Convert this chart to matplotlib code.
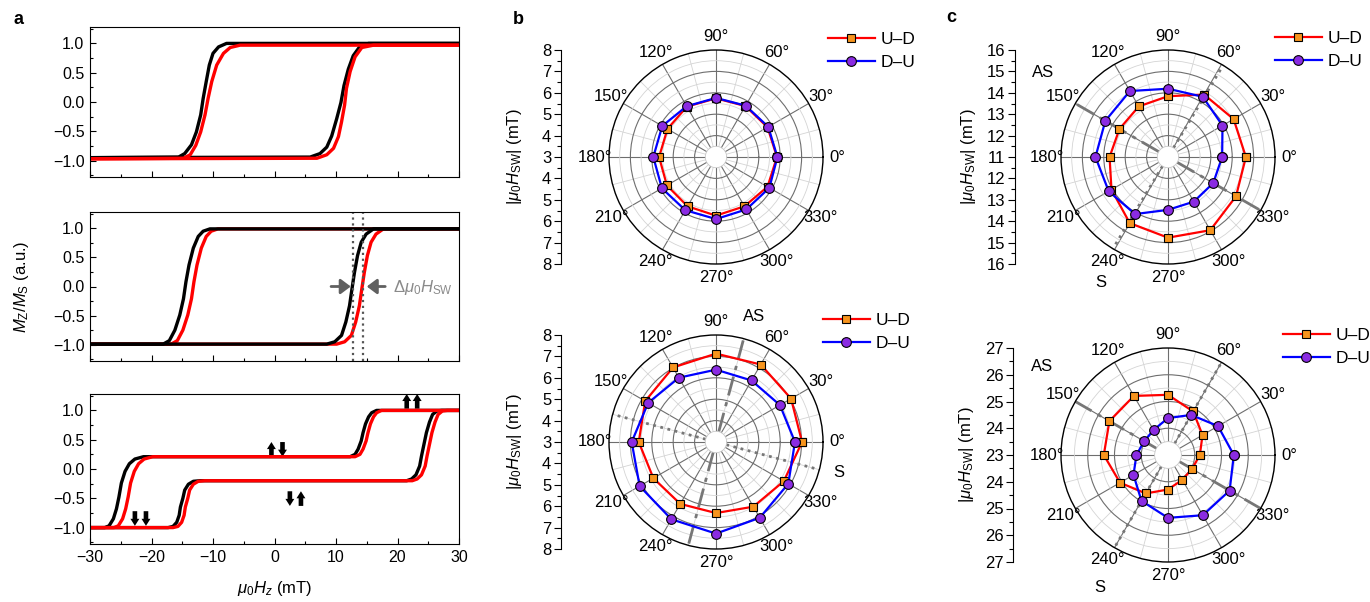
import numpy as np
import matplotlib
matplotlib.use('Agg')
import matplotlib.pyplot as plt
from matplotlib.ticker import MultipleLocator

plt.rcParams['font.family'] = ['Liberation Sans', 'DejaVu Sans']
plt.rcParams['mathtext.fontset'] = 'custom'
plt.rcParams['mathtext.rm'] = 'Liberation Sans'
plt.rcParams['mathtext.it'] = 'Liberation Sans:italic'
plt.rcParams['mathtext.bf'] = 'Liberation Sans:bold'

# ---------------- data: panel a (hysteresis branches) ----------------
TOP_BLK_DN_X = [30, -7.8, -9.1, -10.0, -10.6, -11.1, -11.6, -12.0, -12.7, -13.5, -14.6, -15.6, -30]
TOP_BLK_DN_Y = [1.0, 1.0, 0.94, 0.83, 0.63, 0.35, 0.06, -0.22, -0.51, -0.73, -0.88, -0.94, -0.95]
TOP_BLK_UP_X = [-30, 5.8, 7.4, 8.5, 9.3, 10.1, 10.8, 11.3, 12.0, 12.8, 13.9, 15.3, 30]
TOP_BLK_UP_Y = [-0.95, -0.94, -0.88, -0.77, -0.58, -0.29, -0.01, 0.28, 0.56, 0.79, 0.95, 1.0, 1.0]
TOP_RED_DN_X = [30, -5.6, -7.2, -8.3, -9.4, -10.2, -10.8, -11.3, -12.0, -12.8, -13.7, -14.8, -30]
TOP_RED_DN_Y = [0.97, 0.97, 0.93, 0.83, 0.63, 0.35, 0.06, -0.22, -0.51, -0.74, -0.90, -0.96, -0.97]
TOP_RED_UP_X = [-30, 6.9, 8.5, 9.6, 10.4, 10.9, 11.4, 11.7, 12.3, 13.1, 14.2, 16.1, 30]
TOP_RED_UP_Y = [-0.97, -0.96, -0.90, -0.79, -0.59, -0.34, -0.05, 0.23, 0.52, 0.77, 0.93, 0.97, 0.97]

MID_BLK_DN_X = [30, -10.5, -11.6, -12.4, -13.2, -13.9, -14.4, -14.8, -15.4, -16.2, -17.1, -18.1, -30]
MID_RED_DN_X = [30, -9.2, -10.3, -11.1, -11.9, -12.6, -13.1, -13.5, -14.1, -14.9, -15.8, -16.8, -30]
MID_DN_Y = [0.99, 0.99, 0.95, 0.86, 0.66, 0.37, 0.08, -0.21, -0.49, -0.75, -0.93, -0.99, -0.99]
MID_BLK_UP_X = [-30, 8.5, 9.8, 10.9, 11.6, 12.2, 12.6, 13.0, 13.5, 14.1, 14.9, 16.1, 30]
MID_RED_UP_X = [-30, 10.1, 11.4, 12.5, 13.2, 13.8, 14.2, 14.6, 15.1, 15.7, 16.5, 17.7, 30]
MID_UP_Y = [-0.99, -0.99, -0.95, -0.84, -0.61, -0.33, -0.04, 0.24, 0.53, 0.76, 0.90, 0.99, 0.99]
MID_SW_FIELDS = [12.8, 14.4]

BOT_BLK_DN_X = [30, 16.6, 15.8, 15.3, 14.8, 14.4, 14.1, 13.6, 13.1, 12.3,
                -21.3, -22.7, -23.6, -24.3, -24.9, -25.3, -25.7, -26.2, -26.9, -27.6, -30]
BOT_RED_DN_X = [30, 17.4, 16.6, 16.1, 15.6, 15.2, 14.9, 14.4, 13.9, 13.1,
                -19.8, -21.2, -22.1, -22.8, -23.4, -23.8, -24.2, -24.7, -25.4, -26.1, -30]
BOT_DN_Y = [1.0, 1.0, 0.96, 0.89, 0.77, 0.62, 0.48, 0.34, 0.25, 0.21,
            0.21, 0.17, 0.09, -0.04, -0.24, -0.48, -0.68, -0.85, -0.97, -1.0, -1.0]
BOT_BLK_UP_X = [-30, -17.3, -16.5, -15.9, -15.5, -15.3, -14.9, -14.6, -14.0, -13.2, -12.1,
                21.5, 22.3, 23.0, 23.6, 23.9, 24.3, 24.7, 25.2, 25.7, 26.4, 27.2, 30]
BOT_RED_UP_X = [-30, -16.5, -15.7, -15.1, -14.7, -14.5, -14.1, -13.8, -13.2, -12.4, -11.3,
                22.4, 23.2, 23.9, 24.5, 24.8, 25.2, 25.6, 26.1, 26.6, 27.3, 28.1, 30]
BOT_UP_Y = [-1.0, -1.0, -0.98, -0.91, -0.79, -0.65, -0.50, -0.36, -0.26, -0.21, -0.20,
            -0.20, -0.17, -0.10, 0.05, 0.22, 0.42, 0.62, 0.80, 0.93, 0.99, 1.0, 1.0]

# moment arrows in the lowest plot: (x, y_tail, y_head)
SPIN_ARROWS = [(-22.7, -0.72, -0.97), (-20.9, -0.72, -0.97),
               (-0.5, 0.21, 0.46), (1.3, 0.46, 0.21),
               (2.5, -0.38, -0.63), (4.3, -0.63, -0.38),
               (21.5, 1.03, 1.28), (23.2, 1.03, 1.28)]

# ---------------- data: panels b, c (switching field vs angle) ----------------
ANGLES = [0, 30, 60, 90, 120, 150, 180, 210, 240, 270, 300, 330]
B1_UD = [5.85, 5.78, 5.75, 5.74, 5.72, 5.62, 5.66, 5.65, 5.66, 5.74, 5.66, 5.78]
B1_DU = [5.87, 5.82, 5.77, 5.76, 5.74, 5.90, 5.93, 5.92, 5.87, 5.90, 5.83, 5.88]
B2_UD = [7.02, 7.05, 7.18, 7.13, 7.02, 6.82, 6.61, 6.38, 6.34, 6.32, 6.49, 6.66]
B2_DU = [6.69, 6.45, 6.32, 6.38, 6.47, 6.66, 6.94, 7.12, 7.17, 7.28, 7.09, 6.90]
C1_UD = [14.64, 14.54, 14.37, 13.84, 13.73, 13.62, 13.73, 14.05, 14.57, 14.77, 14.95, 14.67]
C1_DU = [13.53, 13.94, 14.25, 14.19, 14.56, 14.38, 14.39, 14.20, 14.08, 13.47, 13.41, 13.44]
C2_UD = [24.19, 24.49, 24.88, 25.25, 25.55, 25.53, 25.40, 25.07, 24.66, 24.29, 24.07, 24.04]
C2_DU = [25.46, 25.16, 24.73, 24.38, 24.08, 24.03, 24.18, 24.49, 24.98, 25.35, 25.60, 25.66]

W, H = 1370, 602
fig = plt.figure(figsize=(W / 100, H / 100), dpi=100)


def box(x0, y0, x1, y1):
    return [x0 / W, 1 - y1 / H, (x1 - x0) / W, (y1 - y0) / H]


# ---------------- panel a ----------------
a_boxes = [box(90, 27, 459, 177), box(90, 212, 459, 361), box(90, 394, 459, 544)]
a_curves = [
    [(TOP_BLK_DN_X, TOP_BLK_DN_Y, 'k'), (TOP_BLK_UP_X, TOP_BLK_UP_Y, 'k'),
     (TOP_RED_DN_X, TOP_RED_DN_Y, 'red'), (TOP_RED_UP_X, TOP_RED_UP_Y, 'red')],
    [(MID_RED_DN_X, MID_DN_Y, 'red'), (MID_RED_UP_X, MID_UP_Y, 'red'),
     (MID_BLK_DN_X, MID_DN_Y, 'k'), (MID_BLK_UP_X, MID_UP_Y, 'k')],
    [(BOT_BLK_DN_X, BOT_DN_Y, 'k'), (BOT_BLK_UP_X, BOT_UP_Y, 'k'),
     (BOT_RED_DN_X, BOT_DN_Y, 'red'), (BOT_RED_UP_X, BOT_UP_Y, 'red')],
]
a_axes = []
for i, (bx, curves) in enumerate(zip(a_boxes, a_curves)):
    ax = fig.add_axes(bx)
    for x, y, c in curves:
        ax.plot(x, y, color=c, lw=2.4, solid_joinstyle='round', solid_capstyle='round')
    ax.set_xlim(-30, 30)
    ax.set_ylim(-1.28, 1.28)
    ax.set_yticks([-1, -0.5, 0, 0.5, 1])
    ax.set_yticklabels(['\u22121.0', '\u22120.5', '0.0', '0.5', '1.0'])
    ax.yaxis.set_minor_locator(MultipleLocator(0.25))
    ax.set_xticks(range(-30, 31, 10))
    ax.xaxis.set_minor_locator(MultipleLocator(5))
    ax.tick_params(which='both', direction='in', labelsize=11.5, top=False, right=False)
    ax.tick_params(which='major', length=4, width=0.8, pad=4)
    ax.tick_params(which='minor', length=2.5, width=0.8)
    for s in ax.spines.values():
        s.set_linewidth(0.8)
    if i < 2:
        ax.set_xticklabels([])
    a_axes.append(ax)

mid = a_axes[1]
for xv in MID_SW_FIELDS:
    mid.axvline(xv, color='#555555', ls=':', lw=1.6)
arr_kw = dict(arrowstyle='-|>,head_length=0.6,head_width=0.45', color='#606060', lw=2,
              shrinkA=0, shrinkB=0)
mid.annotate('', xy=(12.4, 0), xytext=(9.2, 0), arrowprops=arr_kw)
mid.annotate('', xy=(15.0, 0), xytext=(18.0, 0), arrowprops=arr_kw)
mid.text(19.2, -0.02, r'$\Delta\mu_0H_\mathrm{SW}$', color='#8a8a8a', fontsize=12,
         ha='left', va='center')

bot = a_axes[2]
for x, y0, y1 in SPIN_ARROWS:
    bot.arrow(x, y0, 0, y1 - y0, width=0.75, head_width=1.45, head_length=0.12,
              length_includes_head=True, color='k', lw=0)

fig.text(22 / W, 1 - 287 / H, r'$M_\mathrm{Z}/M_\mathrm{S}$ (a.u.)', rotation=90,
         ha='center', va='center', fontsize=12)
fig.text(275 / W, 1 - 589 / H, r'$\mu_0H_z$ (mT)', ha='center', va='center', fontsize=12)

# ---------------- panels b, c ----------------
ORANGE = '#f7941d'
PURPLE = '#8a2be2'


def polar_panel(cx, cy, spine_x, r0, r1, ud, du, lines, labels, leg_xy):
    R = 107
    bx = box(cx - R, cy - R, cx + R, cy + R)
    ax = fig.add_axes(bx, projection='polar')
    ax.set_ylim(r0 + 0.5, r1)
    ax.set_rorigin(r0)
    ax.set_axisbelow(True)
    ax.set_xticks(np.deg2rad(ANGLES))
    ax.set_xticklabels([f'{a}\u00b0' for a in ANGLES], fontsize=12)
    ax.set_xticks(np.deg2rad(np.array(ANGLES) + 15), minor=True)
    ax.set_yticks(np.arange(r0 + 1, r1))
    ax.set_yticks(np.arange(r0 + 1.5, r1, 1.0), minor=True)
    ax.set_yticklabels([])
    ax.tick_params(which='both', length=0)
    ax.tick_params(axis='x', pad=3)
    ax.grid(True, which='major', color='#6e6e6e', lw=0.8)
    ax.grid(True, which='minor', color='#d4d4d4', lw=0.6)
    ax.spines['polar'].set_linewidth(1.0)
    ax.spines['inner'].set_color('#c8c8c8')
    ax.spines['inner'].set_linewidth(0.6)

    for ang, style, lw in lines:
        for a in (ang, ang + 180):
            ax.plot([np.deg2rad(a)] * 2, [r0 + 0.5, r1], color='#777777', ls=style,
                    lw=lw, zorder=2, clip_on=False)
    for txt, ang, frac in labels:
        ax.text(np.deg2rad(ang), r0 + frac * (r1 - r0), txt, fontsize=12,
                ha='center', va='center', clip_on=False)

    th = np.deg2rad(ANGLES + [ANGLES[0]])
    h1, = ax.plot(th, ud + [ud[0]], color='red', lw=1.6, marker='s', ms=6,
                  mfc=ORANGE, mec='k', mew=0.8, zorder=4, clip_on=False)
    h2, = ax.plot(th, du + [du[0]], color='blue', lw=1.6, marker='o', ms=7,
                  mfc=PURPLE, mec='k', mew=0.8, zorder=5, clip_on=False)

    fig.legend([h1, h2], ['U\u2013D', 'D\u2013U'], loc='upper left',
               bbox_to_anchor=(leg_xy[0] / W, 1 - leg_xy[1] / H), frameon=False,
               fontsize=12.5, handlelength=2.7, handletextpad=0.35, labelspacing=0.45,
               borderpad=0, borderaxespad=0)

    # linear |H_SW| scale to the left
    span = r1 - r0
    sax = fig.add_axes([spine_x / W, bx[1], 0.0001, bx[3]])
    sax.set_ylim(-span, span)
    ticks = np.arange(-span, span + 1)
    sax.set_yticks(ticks)
    sax.set_yticklabels([f'{int(abs(t) + r0)}' for t in ticks])
    sax.set_yticks(np.arange(-span, span + 0.01, 0.5), minor=True)
    sax.set_xticks([])
    for s in ('top', 'right', 'bottom'):
        sax.spines[s].set_visible(False)
    sax.spines['left'].set_linewidth(0.8)
    sax.patch.set_visible(False)
    sax.tick_params(axis='y', which='major', length=5, width=0.8, labelsize=12, pad=2)
    sax.tick_params(axis='y', which='minor', length=3, width=0.8)
    fig.text((spine_x - 46) / W, 1 - cy / H, r'$|\mu_0H_\mathrm{SW}|$ (mT)', rotation=90,
             ha='center', va='center', fontsize=12)
    return ax


DASHDOT = (0, (7, 2.5, 1.5, 2.5))
polar_panel(716, 157, 561, 3, 8, B1_UD, B1_DU, [], [], (828, 32))
polar_panel(716, 442, 561, 3, 8, B2_UD, B2_DU,
            [(75, DASHDOT, 2.0), (165, ':', 2.0)],
            [('AS', 73, 1.23), ('S', 346, 1.18)], (823, 313))
polar_panel(1168, 157, 1015, 11, 16, C1_UD, C1_DU,
            [(150, DASHDOT, 2.0), (59, ':', 2.0)],
            [('AS', 146, 1.41), ('S', 242, 1.33)], (1275, 31))
polar_panel(1168, 455, 1013, 23, 27, C2_UD, C2_DU,
            [(150, DASHDOT, 2.0), (60, ':', 2.0)],
            [('AS', 145, 1.44), ('S', 242.7, 1.39)], (1283, 328))

for lab, x, y in [('a', 18, 20), ('b', 518, 19), ('c', 951, 18)]:
    fig.text(x / W, 1 - y / H, lab, fontsize=13, fontweight='bold', ha='center', va='center')

fig.savefig('out.png', dpi=100)
